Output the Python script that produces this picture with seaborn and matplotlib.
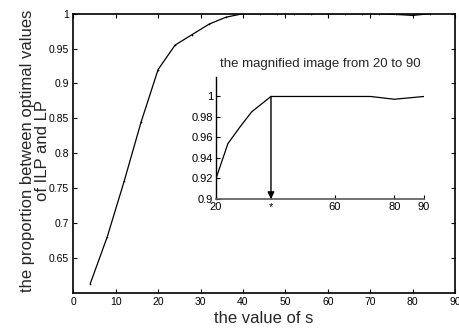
import matplotlib
matplotlib.use("Agg")
import matplotlib.pyplot as plt
import seaborn as sns
import pandas as pd

# ---- data ----
s_values = [4, 8, 12, 16, 20, 24, 28, 32, 36, 40, 44, 48, 52, 56, 60, 64, 68, 72, 76, 80, 84]
ratio_values = [0.613, 0.680, 0.760, 0.845, 0.920, 0.955, 0.970, 0.985, 0.995, 1.0, 1.0, 1.0,
                1.0, 1.0, 1.0, 1.0, 1.0, 1.0, 0.999, 0.9975, 1.0]

inset_s = [20, 24, 28, 32, 38.5, 72, 80, 90]
inset_ratio = [0.920, 0.954, 0.970, 0.985, 1.0, 1.0, 0.9973, 1.0]

main_xticks = [0, 10, 20, 30, 40, 50, 60, 70, 80, 90]
main_yticks = [0.65, 0.7, 0.75, 0.8, 0.85, 0.9, 0.95, 1]
main_yticklabels = ["0.65", "0.7", "0.75", "0.8", "0.85", "0.9", "0.95", "1"]
inset_xticks = [20, 38.5, 60, 80, 90]
inset_xticklabels = ["20", "*", "60", "80", "90"]
inset_yticks = [0.9, 0.92, 0.94, 0.96, 0.98, 1.0]
inset_yticklabels = ["0.9", "0.92", "0.94", "0.96", "0.98", "1"]
star_s = 38.5

sns.set_style("ticks")
plt.rcParams['font.family'] = ['Liberation Sans', 'DejaVu Sans']

fig = plt.figure(figsize=(4.59, 3.31), dpi=100)
ax = fig.add_axes([0.1597, 0.1157, 0.8316, 0.8429])

main_df = pd.DataFrame({"s": s_values, "ratio": ratio_values})
sns.lineplot(data=main_df, x="s", y="ratio", ax=ax, color="black", linewidth=0.9,
             marker=".", markersize=2.5, markeredgewidth=0)
ax.set_xlim(0, 90)
ax.set_ylim(0.6, 1.0)
ax.set_xticks(main_xticks)
ax.set_yticks(main_yticks)
ax.set_yticklabels(main_yticklabels)
ax.tick_params(direction="in", length=3, width=0.8, labelsize=7.5, top=True, right=True,
               colors="black", pad=3)
for sp in ax.spines.values():
    sp.set_visible(True)
    sp.set_linewidth(1.2)
    sp.set_color("black")
ax.set_xlabel("the value of s", fontsize=12)
ax.xaxis.set_label_coords(0.5, -0.066)
ax.set_ylabel("the proportion between optimal values\nof ILP and LP", fontsize=12,
              linespacing=1.0)
ax.yaxis.set_label_coords(-0.062, 0.51)

# ---- inset ----
axi = fig.add_axes([0.4706, 0.3988, 0.4532, 0.3686])
inset_df = pd.DataFrame({"s": inset_s, "ratio": inset_ratio})
sns.lineplot(data=inset_df, x="s", y="ratio", ax=axi, color="black", linewidth=0.9)
axi.set_xlim(20, 90)
axi.set_ylim(0.9, 1.019)
axi.set_xticks(inset_xticks)
axi.set_xticklabels(inset_xticklabels)
axi.set_yticks(inset_yticks)
axi.set_yticklabels(inset_yticklabels)
axi.tick_params(direction="in", length=3, width=0.8, labelsize=8, colors="black", pad=2)
axi.spines["top"].set_visible(False)
axi.spines["right"].set_visible(False)
axi.spines["left"].set_color("black")
axi.spines["bottom"].set_color("0.35")
axi.spines["left"].set_linewidth(1.0)
axi.spines["bottom"].set_linewidth(1.2)
axi.set_xlabel("")
axi.set_ylabel("")
axi.set_facecolor("none")
axi.set_title("the magnified image from 20 to 90", fontsize=9.5, pad=7)
axi.annotate("", xy=(star_s, 0.9), xytext=(star_s, 1.0),
             arrowprops=dict(arrowstyle="-|>", color="black", lw=1.0,
                             mutation_scale=10, shrinkA=0, shrinkB=0))

fig.savefig("out.png", dpi=100)
